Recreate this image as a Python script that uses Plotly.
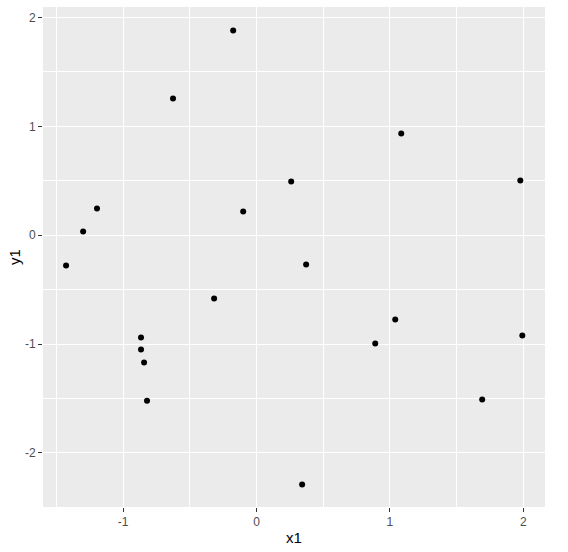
import plotly.graph_objects as go

x1 = [-0.175, -0.626, -1.196, -1.30, -0.10, 0.26, 1.085, 1.978,
      -1.428, 0.372, -0.318, -0.866, -0.866, -0.843, -0.821, 0.342,
      1.04, 0.89, 1.993, 1.692]
y1 = [1.881, 1.256, 0.245, 0.034, 0.218, 0.493, 0.935, 0.503,
      -0.279, -0.27, -0.582, -0.940, -1.051, -1.170, -1.520, -2.291,
      -0.775, -0.995, -0.922, -1.510]

x_ticks = [-1, 0, 1, 2]
y_ticks = [-2, -1, 0, 1, 2]

fig = go.Figure()
fig.add_trace(go.Scatter(
    x=x1, y=y1, mode="markers",
    marker=dict(color="black", size=6, line=dict(width=0)),
    showlegend=False, hoverinfo="x+y"))

axis_common = dict(
    showgrid=True, gridcolor="white", gridwidth=1.1,
    zeroline=False, showline=False, automargin=False,
    ticks="outside", ticklen=4, tickwidth=1, tickcolor="#333333",
    tickfont=dict(family="Liberation Sans, Arial, sans-serif", size=12, color="#4D4D4D"),
    minor=dict(showgrid=True, gridcolor="white", gridwidth=0.55, dtick=0.5, ticks=""),
)

fig.update_layout(
    width=568, height=552,
    margin=dict(l=43, r=23, t=7, b=45),
    paper_bgcolor="white", plot_bgcolor="#EBEBEB",
    font=dict(family="Liberation Sans, Arial, sans-serif"),
    xaxis=dict(range=[-1.601, 2.163], tickmode="array", tickvals=x_ticks,
               ticktext=[str(v) for v in x_ticks],
               title=dict(text="x1", font=dict(size=15, color="black"), standoff=4),
               **axis_common),
    yaxis=dict(range=[-2.497, 2.096], tickmode="array", tickvals=y_ticks,
               ticktext=[str(v) for v in y_ticks],
               title=dict(text="y1", font=dict(size=15, color="black"), standoff=0),
               **axis_common),
)

fig.write_html("out.html", config={"displayModeBar": False},
               post_script="document.body.style.margin='0';document.body.style.overflow='hidden';")
